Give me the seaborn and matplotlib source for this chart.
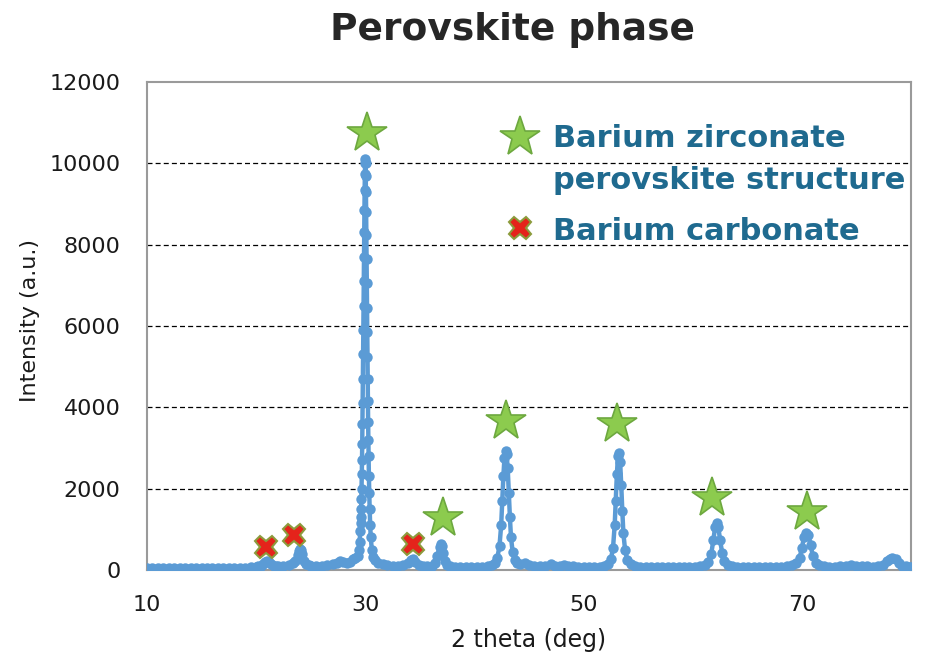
import numpy as np
import pandas as pd
import seaborn as sns
import matplotlib.pyplot as plt

# XRD pattern (2 theta in deg, intensity in a.u.)
two_theta = [
    10.0, 10.5, 11.0, 11.5, 12.0, 12.5, 13.0, 13.5, 14.0, 14.5, 15.0, 15.5,
    16.0, 16.5, 17.0, 17.5, 18.0, 18.5, 19.0, 19.5, 20.0, 20.2, 20.4, 20.6,
    20.8, 21.0, 21.2, 21.4, 21.6, 21.8, 22.0, 22.5, 23.0, 23.4, 23.6, 23.8,
    23.9, 24.0, 24.1, 24.2, 24.4, 24.6, 24.8, 25.0, 25.5, 26.0, 26.5, 27.0,
    27.4, 27.7, 28.0, 28.3, 28.6, 28.9, 29.1, 29.3, 29.4, 29.48, 29.54, 29.58,
    29.60, 29.62, 29.64, 29.66, 29.68, 29.70, 29.72, 29.74, 29.76, 29.78, 29.80, 29.82,
    29.84, 29.86, 29.88, 29.90, 29.92, 29.94, 29.96, 29.98, 30.00, 30.02, 30.04, 30.06,
    30.08, 30.10, 30.12, 30.14, 30.16, 30.18, 30.20, 30.22, 30.24, 30.26, 30.28, 30.30,
    30.33, 30.36, 30.40, 30.45, 30.50, 30.60, 30.75, 30.90, 31.2, 31.6, 32.0, 32.5,
    33.0, 33.5, 33.9, 34.2, 34.4, 34.6, 34.9, 35.3, 35.7, 36.1, 36.4, 36.6,
    36.8, 36.9, 37.0, 37.15, 37.3, 37.5, 37.8, 38.2, 38.7, 39.2, 39.7, 40.2,
    40.7, 41.2, 41.6, 41.9, 42.1, 42.3, 42.45, 42.55, 42.65, 42.75, 42.85, 42.95,
    43.05, 43.15, 43.25, 43.35, 43.5, 43.7, 43.9, 44.2, 44.6, 45.0, 45.5, 46.0,
    46.5, 47.0, 47.4, 47.8, 48.2, 48.6, 49.0, 49.5, 50.0, 50.5, 51.0, 51.5,
    51.9, 52.2, 52.5, 52.7, 52.85, 52.95, 53.05, 53.15, 53.25, 53.35, 53.45, 53.55,
    53.65, 53.8, 54.0, 54.3, 54.7, 55.2, 55.7, 56.2, 56.7, 57.2, 57.7, 58.2,
    58.7, 59.2, 59.7, 60.2, 60.7, 61.1, 61.4, 61.7, 61.9, 62.05, 62.2, 62.35,
    62.5, 62.7, 62.9, 63.2, 63.6, 64.1, 64.6, 65.1, 65.6, 66.1, 66.6, 67.1,
    67.6, 68.1, 68.6, 69.1, 69.5, 69.8, 70.0, 70.2, 70.4, 70.6, 70.8, 71.0,
    71.3, 71.6, 72.0, 72.5, 73.0, 73.5, 74.0, 74.5, 75.0, 75.5, 76.0, 76.5,
    77.0, 77.4, 77.8, 78.1, 78.3, 78.6, 78.9, 79.2, 79.5, 79.8, 80.0,
]
intensity = [
    40, 40, 45, 40, 40, 45, 40, 45, 50, 45, 50, 50,
    45, 50, 55, 50, 55, 60, 60, 70, 80, 95, 110, 150,
    200, 230, 190, 140, 110, 100, 95, 100, 120, 160, 230, 380,
    470, 520, 480, 390, 230, 150, 120, 110, 105, 110, 120, 140,
    170, 210, 190, 170, 190, 260, 300, 350, 500, 700, 950, 1150,
    1300, 1500, 1750, 2000, 2350, 2700, 3100, 3600, 4100, 4700, 5300, 5900,
    6500, 7100, 7700, 8300, 8850, 9350, 9750, 10000, 10100, 10000, 9700, 9300,
    8800, 8250, 7650, 7050, 6450, 5850, 5250, 4700, 4150, 3650, 3200, 2800,
    2300, 1900, 1500, 1100, 800, 500, 320, 250, 180, 140, 120, 110,
    110, 120, 170, 240, 260, 200, 130, 100, 95, 110, 180, 350,
    560, 640, 600, 420, 230, 130, 95, 80, 75, 75, 80, 80,
    85, 95, 120, 180, 300, 600, 1100, 1700, 2300, 2750, 2920, 2850,
    2500, 1900, 1300, 800, 450, 250, 170, 140, 160, 120, 100, 95,
    110, 140, 110, 95, 120, 100, 90, 85, 80, 80, 80, 85,
    100, 140, 260, 550, 1100, 1700, 2350, 2800, 2870, 2650, 2100, 1450,
    900, 500, 250, 140, 100, 85, 80, 75, 75, 75, 75, 80,
    75, 75, 80, 85, 100, 130, 200, 400, 750, 1050, 1150, 1050,
    750, 420, 220, 130, 95, 85, 80, 80, 75, 75, 80, 80,
    80, 85, 95, 120, 170, 300, 550, 800, 920, 860, 620, 350,
    180, 120, 95, 85, 85, 90, 110, 130, 100, 90, 90, 85,
    95, 130, 210, 280, 300, 260, 180, 110, 90, 80, 75,
]

# annotation marks
star_x = [30.2, 37.1, 42.9, 53.1, 61.8, 70.5]
star_y = [10750, 1280, 3660, 3590, 1770, 1430]
carb_x = [20.9, 23.5, 34.4]
carb_y = [570, 860, 640]

legend_labels = ["Barium zirconate", "perovskite structure", "Barium carbonate"]
y_ticks = [0, 2000, 4000, 6000, 8000, 10000, 12000]
x_ticks = [10, 30, 50, 70]

df = pd.DataFrame({"two_theta": two_theta, "intensity": intensity})

sns.set_theme(style="white")
plt.rcParams["font.family"] = ["DejaVu Sans"]

fig = plt.figure(figsize=(9.26, 6.61), dpi=100)
ax = fig.add_axes([147 / 926, 91 / 661, 764 / 926, 488 / 661])

blue = "#5B9BD5"
for lvl in y_ticks[1:-1]:
    ax.axhline(lvl, color="black", lw=0.9, ls=(0, (4, 2.5)), zorder=1)

sns.lineplot(data=df, x="two_theta", y="intensity", ax=ax, color=blue,
             linewidth=3.2, marker="o", markersize=7.5, markeredgewidth=0,
             sort=False, zorder=3)

ax.plot(star_x, star_y, ls="none", marker="*", markersize=30,
        markerfacecolor="#8CCB4E", markeredgecolor="#6DA83F",
        markeredgewidth=1.2, zorder=5)
ax.plot(carb_x, carb_y, ls="none", marker="X", markersize=16,
        markerfacecolor="#E5231B", markeredgecolor="#8C9B3C",
        markeredgewidth=1.5, zorder=5)

ax.set_xlim(10, 80)
ax.set_ylim(0, 12000)
ax.set_xticks(x_ticks)
ax.set_yticks(y_ticks)
ax.tick_params(axis="both", length=0, labelsize=16, colors="#1a1a1a")
ax.tick_params(axis="x", pad=18)
ax.tick_params(axis="y", pad=19)
ax.set_xlabel("")
ax.set_ylabel("")
for sp in ax.spines.values():
    sp.set_color("#9a9a9a")
    sp.set_linewidth(1.5)

fig.text(30 / 926, 1 - 320 / 661, "Intensity (a.u.)", rotation=90,
         ha="center", va="center", fontsize=16, color="#1a1a1a")
fig.text(529 / 926, 1 - 640 / 661, "2 theta (deg)", ha="center",
         va="center", fontsize=17, color="#1a1a1a")
fig.text(513 / 926, 1 - 30 / 661, "Perovskite phase", ha="center",
         va="center", fontsize=27, fontweight="bold", color="#262626")

# legend made of marks and text
teal = "#1F6A8F"
ax_leg = fig.add_axes([0, 0, 1, 1], facecolor="none")
ax_leg.set_xlim(0, 926)
ax_leg.set_ylim(661, 0)
ax_leg.axis("off")
ax_leg.plot([520], [137], marker="*", markersize=30, markerfacecolor="#8CCB4E",
            markeredgecolor="#6DA83F", markeredgewidth=1.2)
ax_leg.plot([520], [228], marker="X", markersize=16, markerfacecolor="#E5231B",
            markeredgecolor="#8C9B3C", markeredgewidth=1.5)
for label, base in zip(legend_labels, [147, 189, 240]):
    ax_leg.text(553, base, label, ha="left", va="baseline", fontsize=22,
                fontweight="bold", color=teal)

fig.savefig("out.png", dpi=100)
